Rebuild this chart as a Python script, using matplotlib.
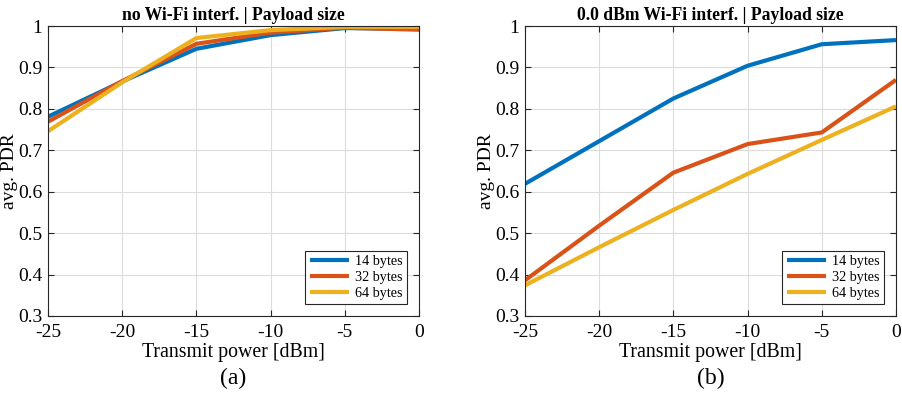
import matplotlib.pyplot as plt

plt.rcParams['font.family'] = ['Liberation Serif', 'DejaVu Serif']
plt.rcParams['axes.unicode_minus'] = False

# transmit power levels
tx_power = [-25, -20, -15, -10, -5, 0]
payloads = ['14 bytes', '32 bytes', '64 bytes']

# no Wi-Fi interference
pdr_clean_14 = [0.781, 0.866, 0.945, 0.978, 0.995, 0.993]
pdr_clean_32 = [0.769, 0.867, 0.957, 0.984, 0.996, 0.991]
pdr_clean_64 = [0.746, 0.864, 0.971, 0.990, 0.998, 0.998]

# 0.0 dBm Wi-Fi interference
pdr_wifi_14 = [0.619, 0.722, 0.825, 0.904, 0.956, 0.966]
pdr_wifi_32 = [0.386, 0.518, 0.646, 0.715, 0.743, 0.870]
pdr_wifi_64 = [0.374, 0.466, 0.556, 0.643, 0.725, 0.806]

colors = ['#0072BD', '#D95319', '#EDB120']

fig = plt.figure(figsize=(9.02, 3.94), dpi=100)
ax1 = fig.add_axes([0.0532, 0.198, 0.4113, 0.736])
ax2 = fig.add_axes([0.582, 0.198, 0.4113, 0.736])

panels = [
    (ax1, [pdr_clean_14, pdr_clean_32, pdr_clean_64], 'no Wi-Fi interf. | Payload size', '(a)'),
    (ax2, [pdr_wifi_14, pdr_wifi_32, pdr_wifi_64], '0.0 dBm Wi-Fi interf. | Payload size', '(b)'),
]

for ax, series, title, tag in panels:
    for vals, c, lab in zip(series, colors, payloads):
        ax.plot(tx_power, vals, color=c, lw=3.0, label=lab, solid_capstyle='butt')
    ax.set_xlim(-25, 0)
    ax.set_ylim(0.3, 1.0)
    ax.set_xticks(tx_power)
    ax.set_yticks([0.3, 0.4, 0.5, 0.6, 0.7, 0.8, 0.9, 1.0])
    ax.set_yticklabels(['0.3', '0.4', '0.5', '0.6', '0.7', '0.8', '0.9', '1'])
    ax.grid(True, color='#dcdcdc', lw=0.8)
    ax.set_axisbelow(True)
    ax.tick_params(direction='in', top=True, right=True, labelsize=14,
                   length=4, color='#262626')
    ax.tick_params(axis='x', pad=6)
    ax.tick_params(axis='y', pad=4)
    for s in ax.spines.values():
        s.set_color('#262626')
        s.set_linewidth(0.8)
    ax.set_title(title, fontsize=12.7, fontweight='bold', pad=4)
    ax.set_xlabel('Transmit power [dBm]', fontsize=14.3, labelpad=1)
    ax.set_ylabel('avg. PDR', fontsize=14, labelpad=0)
    leg = ax.legend(loc='lower right', fontsize=10.2, handlelength=2.8,
                    fancybox=False, framealpha=1, edgecolor='#262626',
                    borderpad=0.3, labelspacing=0.2, handletextpad=0.4,
                    borderaxespad=0.85)
    leg.get_frame().set_linewidth(0.8)
    ax.text(0.5, -0.215, tag, transform=ax.transAxes, ha='center', va='center',
            fontsize=17)

fig.savefig('out.png', dpi=100)
